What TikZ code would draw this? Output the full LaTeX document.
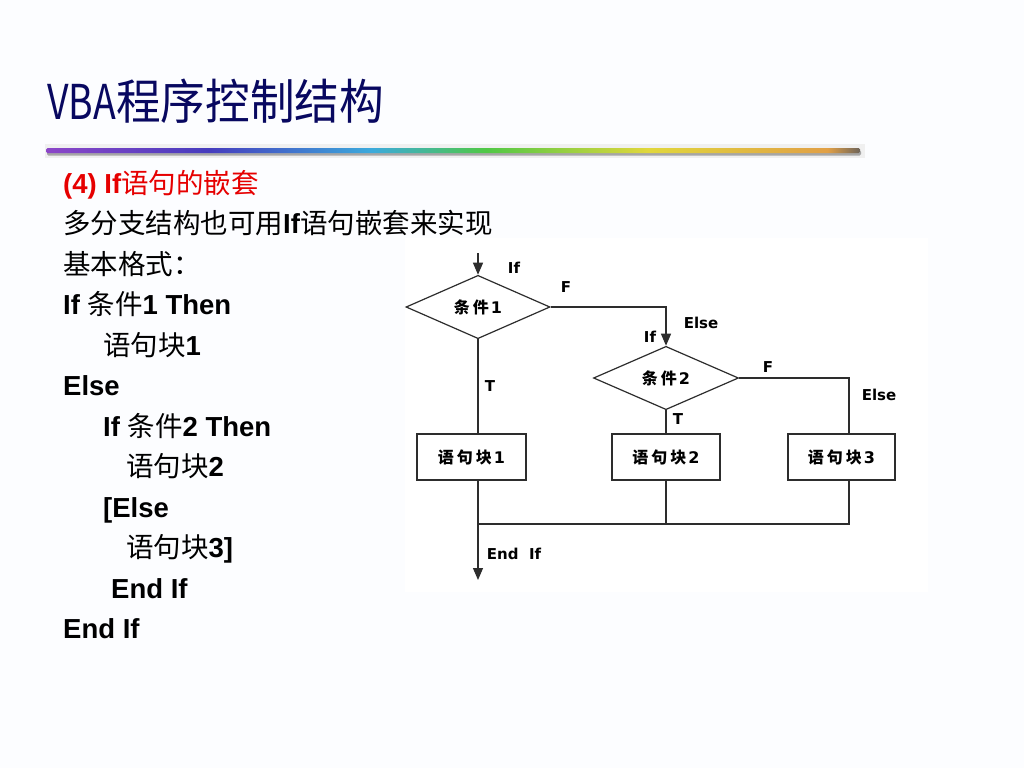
\documentclass[tikz,border=0pt]{standalone}
\usepackage{fontspec}
\setmainfont{Liberation Sans}
\newfontfamily\cjk{Noto Sans CJK SC}
\newfontfamily\dvs{DejaVu Sans}
\usetikzlibrary{shapes.geometric,arrows.meta,calc}
\definecolor{slidebg}{RGB}{252,253,255}
\definecolor{titleblue}{RGB}{8,8,96}
\definecolor{hred}{RGB}{230,0,0}
\definecolor{fcline}{RGB}{45,45,45}
\definecolor{rb1}{RGB}{140,70,200}
\definecolor{rb2}{RGB}{70,60,190}
\definecolor{rb3}{RGB}{60,170,220}
\definecolor{rb4}{RGB}{80,200,70}
\definecolor{rb5}{RGB}{225,215,60}
\definecolor{rb6}{RGB}{225,160,70}
\definecolor{rb7}{RGB}{110,100,90}
\pgfdeclarehorizontalshading{rainbow}{100bp}{color(0bp)=(rb1); color(25bp)=(rb1); color(35bp)=(rb2); color(45bp)=(rb3); color(52bp)=(rb4); color(62bp)=(rb5); color(73bp)=(rb6); color(75bp)=(rb7); color(100bp)=(rb7)}
\newcommand\zhtxt[1]{{\cjk\mdseries #1}}
\begin{document}
\begin{tikzpicture}[x=1pt,y=-1pt,
  body/.style={anchor=base west, inner sep=0pt, font=\bfseries\fontsize{27.5}{33}\selectfont},
  dia/.style={diamond, draw=fcline, line width=1.2pt, inner sep=0pt, fill=white,
    font=\cjk\bfseries\fontsize{16}{18}\selectfont},
  blk/.style={rectangle, draw=fcline, line width=1.2pt, inner sep=0pt, minimum height=46pt,
    font=\cjk\bfseries\fontsize{16}{18}\selectfont},
  lbl/.style={inner sep=0pt, font=\dvs\bfseries\fontsize{15}{17}\selectfont},
  conn/.style={draw=fcline, line width=1.2pt},
  arr/.style={conn, -{Triangle[length=12pt,width=10pt]}}]
\useasboundingbox (0,0) rectangle (1024,768);
\fill[slidebg] (0,0) rectangle (1024,768);
% title
\node[anchor=base west, inner sep=0pt, text=titleblue, font=\cjk\fontsize{48}{52}\selectfont] (title) at (47,119)
  {\scalebox{0.78}[1]{VBA}\scalebox{0.93}[1]{程序控制结构}};
% rainbow bar
\fill[black!6] (45,144) rectangle (865,158);
\fill[black!35, rounded corners=1.5pt] (47,150.5) rectangle (861,155.5);
\shade[shading=rainbow, rounded corners=1.5pt] (46,148) rectangle (860,153);
% left text
\node[body, text=hred] (l1) at (63,193) {(4) If\zhtxt{语句的嵌套}};
\node[body] (l2) at (63,233.5) {\zhtxt{多分支结构也可用}If\zhtxt{语句嵌套来实现}};
\node[body] (l3) at (63,274) {\zhtxt{基本格式：}};
\node[body] (l4) at (63,314.5) {If \zhtxt{条件}1 Then};
\node[body] (l5) at (103,355) {\zhtxt{语句块}1};
\node[body] (l6) at (63,395.5) {Else};
\node[body] (l7) at (103,436) {If \zhtxt{条件}2 Then};
\node[body] (l8) at (126,476.5) {\zhtxt{语句块}2};
\node[body] (l9) at (103,517) {[Else};
\node[body] (l10) at (126,557.5) {\zhtxt{语句块}3]};
\node[body] (l11) at (111,598) {End If};
\node[body] (l12) at (63,638.5) {End If};
% flowchart image area
\fill[white] (405,238) rectangle (928,592);
\node[dia, minimum width=144pt, minimum height=56pt] (c1) at (478,307)
  {条\hspace{3pt}件\hspace{2pt}{\dvs\bfseries 1}};
\node[dia, minimum width=145pt, minimum height=52pt] (c2) at (666,378)
  {条\hspace{3pt}件\hspace{2pt}{\dvs\bfseries 2}};
\node[blk, minimum width=109pt] (b1) at (471.5,457) {语\hspace{3pt}句\hspace{3pt}块\hspace{2pt}{\dvs\bfseries 1}};
\node[blk, minimum width=108pt] (b2) at (666,457) {语\hspace{3pt}句\hspace{3pt}块\hspace{2pt}{\dvs\bfseries 2}};
\node[blk, minimum width=107pt] (b3) at (841.5,457) {语\hspace{3pt}句\hspace{3pt}块\hspace{2pt}{\dvs\bfseries 3}};
\coordinate (start) at (478,253);
\coordinate (e3t) at ([xshift=7.5pt]b3.north);
\coordinate (e3b) at ([xshift=7.5pt]b3.south);
\coordinate (e1b) at (c1.south |- b1.south);
\coordinate (mrg) at (478,524);
\coordinate (fin) at (478,580);
\draw[arr] (start) -- (c1.north);
\draw[arr] (c1.east) -| (c2.north);
\draw[conn] (c1.south) -- (c1.south |- b1.north);
\draw[conn] (c2.south) -- (b2.north);
\draw[conn] (c2.east) -| (e3t);
\draw[arr] (e1b) -- (fin);
\draw[conn] (b2.south) -- (b2.south |- mrg);
\draw[conn] (e3b) -- (e3b |- mrg) -- (mrg);
% labels
\node[lbl] (t1) at (514,268) {If};
\node[lbl] (t2) at (566,287) {F};
\node[lbl] (t3) at (701,323) {Else};
\node[lbl] (t4) at (650,337) {If};
\node[lbl] (t5) at (490,386) {T};
\node[lbl] (t6) at (768,367) {F};
\node[lbl] (t7) at (879,395) {Else};
\node[lbl] (t8) at (678,419) {T};
\node[lbl] (t9) at (514,554) {End\ \ If};
\end{tikzpicture}
\end{document}
